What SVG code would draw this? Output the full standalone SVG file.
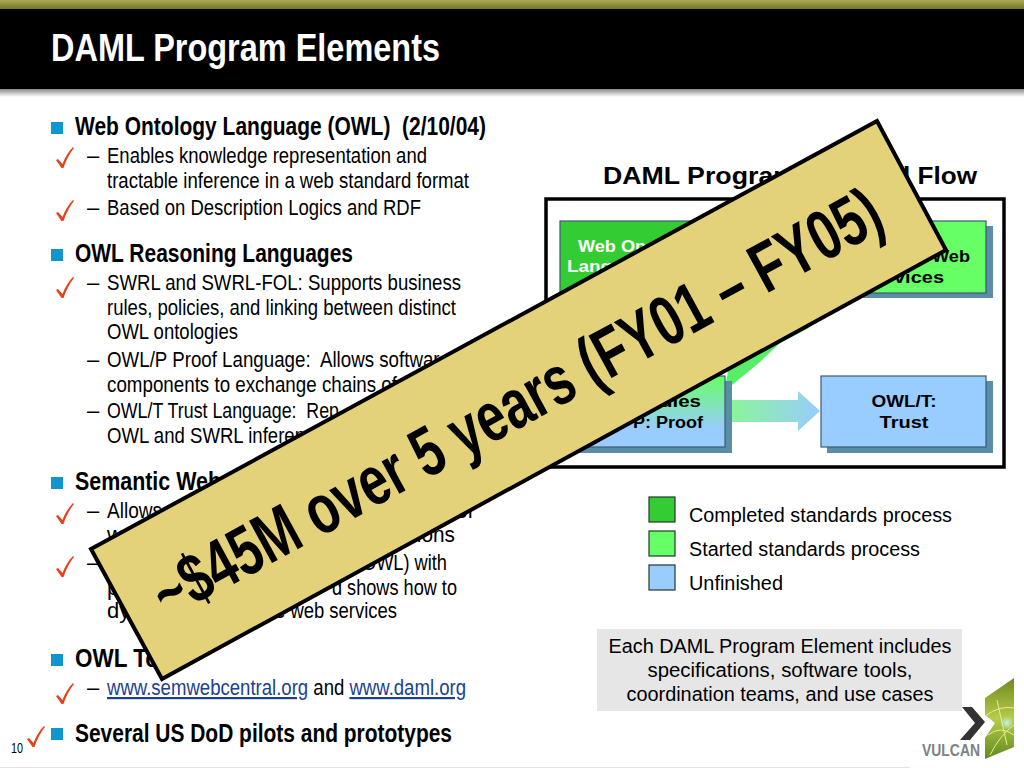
<svg xmlns="http://www.w3.org/2000/svg" width="1024" height="768" viewBox="0 0 1024 768">
<style>
text{font-family:"Liberation Sans",Arial,sans-serif;fill:#000;white-space:pre}
.h{font-size:25px;font-weight:700}
.b{font-size:22px}
.l{font-size:20px}
.n{font-size:16px;font-weight:700}
.link{fill:#1c3f94;text-decoration:underline}
.node{stroke:#3a5a70;stroke-width:1.2}
.shadow{fill:#5a8ea6}
.bul{fill:#0f96cc}
.sw{stroke:#1f3a2a;stroke-width:1.2}
</style>
<defs>
<linearGradient id="olive" x1="0" y1="0" x2="0" y2="1"><stop offset="0" stop-color="#aaaa55"/><stop offset="1" stop-color="#75752a"/></linearGradient>
<linearGradient id="hs" x1="0" y1="0" x2="0" y2="1"><stop offset="0" stop-color="#8a8a8a"/><stop offset="1" stop-color="#fff"/></linearGradient>
<linearGradient id="gb" x1="0" y1="0" x2="0" y2="1"><stop offset="0" stop-color="#66ff66"/><stop offset="0.75" stop-color="#99ccff"/></linearGradient>
<linearGradient id="ga" x1="0" y1="0" x2="1" y2="0"><stop offset="0" stop-color="#8af59a"/><stop offset="1" stop-color="#99ccff"/></linearGradient>
<linearGradient id="logo" x1="0" y1="0" x2="0" y2="1"><stop offset="0" stop-color="#6f8a1e"/><stop offset="0.5" stop-color="#b6cc4a"/><stop offset="1" stop-color="#5f8a20"/></linearGradient>
<radialGradient id="glow"><stop offset="0" stop-color="#bff5e8"/><stop offset="1" stop-color="#bff5e8" stop-opacity="0"/></radialGradient>
<path id="chk" d="M56,160 L58,159 L62.5,164 C65,157 69,151 73,147 L74,148 C70,153 66,160 63.5,168 L61.5,168 Z" fill="#e8401c"/>
</defs>

<g id="header">
<rect x="0" y="0" width="1024" height="9" fill="url(#olive)"/>
<rect x="0" y="9" width="1024" height="80" fill="#000"/>
<rect x="0" y="89" width="1024" height="8" fill="url(#hs)"/>
<text x="51" y="61" font-size="39" font-weight="700" style="fill:#fff" textLength="389" lengthAdjust="spacingAndGlyphs">DAML Program Elements</text>
</g>

<g id="bullets">
<rect class="bul" x="51" y="122" width="12" height="12"/>
<text class="h" x="75" y="135" textLength="411" lengthAdjust="spacingAndGlyphs">Web Ontology Language (OWL)  (2/10/04)</text>
<text class="b" x="87" y="163">–</text>
<text class="b" x="107" y="163" textLength="320" lengthAdjust="spacingAndGlyphs">Enables knowledge representation and</text>
<text class="b" x="107" y="188" textLength="362" lengthAdjust="spacingAndGlyphs">tractable inference in a web standard format</text>
<text class="b" x="87" y="215">–</text>
<text class="b" x="107" y="215" textLength="314" lengthAdjust="spacingAndGlyphs">Based on Description Logics and RDF</text>

<rect class="bul" x="51" y="249" width="12" height="12"/>
<text class="h" x="75" y="262" textLength="278" lengthAdjust="spacingAndGlyphs">OWL Reasoning Languages</text>
<text class="b" x="87" y="290">–</text>
<text class="b" x="107" y="290" textLength="354" lengthAdjust="spacingAndGlyphs">SWRL and SWRL-FOL: Supports business</text>
<text class="b" x="107" y="315" textLength="349" lengthAdjust="spacingAndGlyphs">rules, policies, and linking between distinct</text>
<text class="b" x="107" y="339" textLength="131" lengthAdjust="spacingAndGlyphs">OWL ontologies</text>
<text class="b" x="87" y="367">–</text>
<text class="b" x="107" y="367" textLength="343" lengthAdjust="spacingAndGlyphs">OWL/P Proof Language:  Allows software</text>
<text class="b" x="107" y="392" textLength="290" lengthAdjust="spacingAndGlyphs">components to exchange chains of</text>
<text class="b" x="87" y="418">–</text>
<text class="b" x="107" y="418" textLength="232" lengthAdjust="spacingAndGlyphs">OWL/T Trust Language:  Rep</text>
<text class="b" x="107" y="443" textLength="198" lengthAdjust="spacingAndGlyphs">OWL and SWRL inferen</text>

<rect class="bul" x="51" y="477" width="12" height="12"/>
<text class="h" x="75" y="490" textLength="146" lengthAdjust="spacingAndGlyphs">Semantic Web</text>
<text class="b" x="87" y="518">–</text>
<text class="b" x="107" y="518" textLength="55" lengthAdjust="spacingAndGlyphs">Allows</text>
<text class="b" x="475" y="518" text-anchor="end">or</text>
<text class="b" x="107" y="542">w</text>
<text class="b" x="455" y="542" text-anchor="end" textLength="44" lengthAdjust="spacingAndGlyphs">tions</text>
<text class="b" x="87" y="570">–</text>
<text class="b" x="447" y="570" text-anchor="end" textLength="85" lengthAdjust="spacingAndGlyphs">OWL) with</text>
<text class="b" x="107" y="595">p</text>
<text class="b" x="457" y="595" text-anchor="end" textLength="125" lengthAdjust="spacingAndGlyphs">d shows how to</text>
<text class="b" x="107" y="618">dy</text>
<text class="b" x="397" y="618" text-anchor="end" textLength="122" lengthAdjust="spacingAndGlyphs">e web services</text>

<rect class="bul" x="51" y="654" width="12" height="12"/>
<text class="h" x="75" y="667" textLength="84" lengthAdjust="spacingAndGlyphs">OWL To</text>
<text class="b" x="87" y="695">–</text>
<text class="b" x="107" y="695" textLength="359" lengthAdjust="spacingAndGlyphs"><tspan class="link">www.semwebcentral.org</tspan> and <tspan class="link">www.daml.org</tspan></text>

<rect class="bul" x="51" y="728" width="12" height="12"/>
<text class="h" x="75" y="742" textLength="377" lengthAdjust="spacingAndGlyphs">Several US DoD pilots and prototypes</text>
<text x="11" y="753" font-size="14" textLength="12" lengthAdjust="spacingAndGlyphs">10</text>
</g>

<g id="checks">
<use href="#chk"/>
<use href="#chk" y="53"/>
<use href="#chk" y="130"/>
<use href="#chk" y="356"/>
<use href="#chk" y="409"/>
<use href="#chk" y="536"/>
<use href="#chk" x="-29" y="579"/>
</g>

<text id="flow-title" x="603" y="184" font-size="24" font-weight="700" textLength="194" lengthAdjust="spacingAndGlyphs">DAML Program</text>
<text x="977" y="184" font-size="24" font-weight="700" text-anchor="end" textLength="74" lengthAdjust="spacingAndGlyphs">l Flow</text>
<rect id="flow-frame" x="546" y="199" width="458" height="268" fill="#fff" stroke="#000" stroke-width="3.5"/>

<g id="connectors">
<polygon points="725,388 732,385 760,362 780,343 809,328 790,300 730,360" fill="#55ee66"/>
<polygon points="732,400 798,400 798,391 820,411 798,431 798,422 732,422" fill="url(#ga)"/>
</g>

<g id="node-owl">
<rect class="shadow" x="566" y="226" width="166" height="72"/>
<rect class="node" x="560" y="221" width="165" height="72" fill="#33cc33"/>
<text class="n" x="578" y="252" style="fill:#fff" textLength="68" lengthAdjust="spacingAndGlyphs">Web On</text>
<text class="n" x="567" y="272" style="fill:#fff" textLength="45" lengthAdjust="spacingAndGlyphs">Lang</text>
</g>
<g id="node-services">
<rect class="shadow" x="827" y="226" width="166" height="72"/>
<rect class="node" x="821" y="221" width="165" height="72" fill="#66ff66"/>
<text class="n" x="970" y="262" text-anchor="end" textLength="38" lengthAdjust="spacingAndGlyphs">Web</text>
<text class="n" x="944" y="283" text-anchor="end" textLength="50" lengthAdjust="spacingAndGlyphs">vices</text>
</g>
<g id="node-proof">
<rect class="shadow" x="566" y="381" width="166" height="72"/>
<rect class="node" x="560" y="376" width="165" height="71" fill="url(#gb)"/>
<text class="n" x="701" y="407" text-anchor="end" textLength="41" lengthAdjust="spacingAndGlyphs">ules</text>
<text class="n" x="703" y="428" text-anchor="end" textLength="70" lengthAdjust="spacingAndGlyphs">P: Proof</text>
</g>
<g id="node-trust">
<rect class="shadow" x="827" y="381" width="166" height="72"/>
<rect class="node" x="821" y="376" width="165" height="71" fill="#99ccff"/>
<text class="n" x="904" y="407" text-anchor="middle" textLength="65" lengthAdjust="spacingAndGlyphs">OWL/T:</text>
<text class="n" x="904" y="428" text-anchor="middle" textLength="49" lengthAdjust="spacingAndGlyphs">Trust</text>
</g>

<g id="legend">
<rect class="sw" x="649" y="497" width="26" height="25" fill="#33cc33"/>
<text class="l" x="689" y="522" textLength="263" lengthAdjust="spacingAndGlyphs">Completed standards process</text>
<rect class="sw" x="649" y="531" width="26" height="25" fill="#66ff66"/>
<text class="l" x="689" y="556" textLength="231" lengthAdjust="spacingAndGlyphs">Started standards process</text>
<rect class="sw" x="649" y="565" width="26" height="25" fill="#99ccff"/>
<text class="l" x="689" y="590" textLength="94" lengthAdjust="spacingAndGlyphs">Unfinished</text>
</g>

<g id="note">
<rect x="597" y="629" width="365" height="82" fill="#e6e6e6"/>
<text class="l" x="780" y="653" text-anchor="middle" textLength="343" lengthAdjust="spacingAndGlyphs">Each DAML Program Element includes</text>
<text class="l" x="780" y="677" text-anchor="middle" textLength="265" lengthAdjust="spacingAndGlyphs">specifications, software tools,</text>
<text class="l" x="780" y="701" text-anchor="middle" textLength="307" lengthAdjust="spacingAndGlyphs">coordination teams, and use cases</text>
</g>

<g id="logo-mark">
<polygon points="962,707 972,707 985,722 970,740 960,740 975,723" fill="#333"/>
<polygon points="1014,678 985,698 985,715 995,723 985,738 985,759 1014,747" fill="url(#logo)"/>
<path d="M985,716 Q1000,705 1014,708 M988,735 Q1000,725 1014,735 M990,755 Q1000,735 1014,725 M997,700 L1007,745" fill="none" stroke="#e8ee90" stroke-width="1"/>
<circle cx="1007" cy="723" r="7" fill="url(#glow)"/>
<text x="922" y="756" font-size="17" font-weight="700" style="fill:#7d8284" textLength="58" lengthAdjust="spacingAndGlyphs">VULCAN</text>
</g>

<rect id="footer-line" x="0" y="767" width="910" height="1" fill="#e4e4e4"/>

<g id="banner">
<polygon points="91,549 877,121 946,250 162,679" fill="#e4d27a" stroke="#000" stroke-width="4" stroke-linejoin="miter"/>
<text transform="translate(168,620) rotate(-28.6)" font-size="70" font-weight="700" textLength="820" lengthAdjust="spacingAndGlyphs">~$45M over 5 years (FY01 – FY05)</text>
</g>
</svg>
